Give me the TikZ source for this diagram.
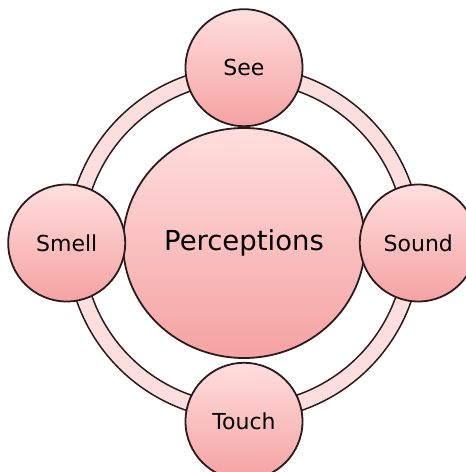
\documentclass[tikz,border=0pt]{standalone}
\usepackage{fontspec}
\setsansfont{DejaVu Sans}
\usetikzlibrary{positioning,shapes.geometric}

\definecolor{rim}{HTML}{2A1C1C}
\definecolor{pinktop}{HTML}{FFDEDE}
\definecolor{pinkbot}{HTML}{F5A2A2}
\definecolor{ringfill}{HTML}{FDDEDE}

\begin{document}
\begin{tikzpicture}[
  x=1pt,y=1pt,
  node distance=0pt,
  core/.style={ellipse,draw=rim,line width=1.8pt,inner sep=0pt,minimum width=242pt,minimum height=230pt,
    top color=pinktop,bottom color=pinkbot,font=\sffamily\fontsize{27.5}{32}\selectfont},
  sense/.style={circle,draw=rim,line width=1.8pt,inner sep=0pt,minimum size=117pt,
    top color=pinktop,bottom color=pinkbot,font=\sffamily\fontsize{22}{26}\selectfont},
  ring/.style={draw=rim,line width=1.5pt,fill=ringfill,even odd rule}
]
  \useasboundingbox (-244,-229) rectangle (222,243);

  \node[core] (P) at (0,0) {Perceptions};

  % ring behind the four senses
  \draw[ring] (P.center) circle[radius=177] (P.center) circle[radius=161];

  \node[sense,above=of P] (See) {See};
  \node[sense,below=3pt of P] (Touch) {Touch};
  \node[sense,left=-4pt of P] (Smell) {Smell};
  \node[sense,right=-7pt of P] (Sound) {Sound};
\end{tikzpicture}
\end{document}
